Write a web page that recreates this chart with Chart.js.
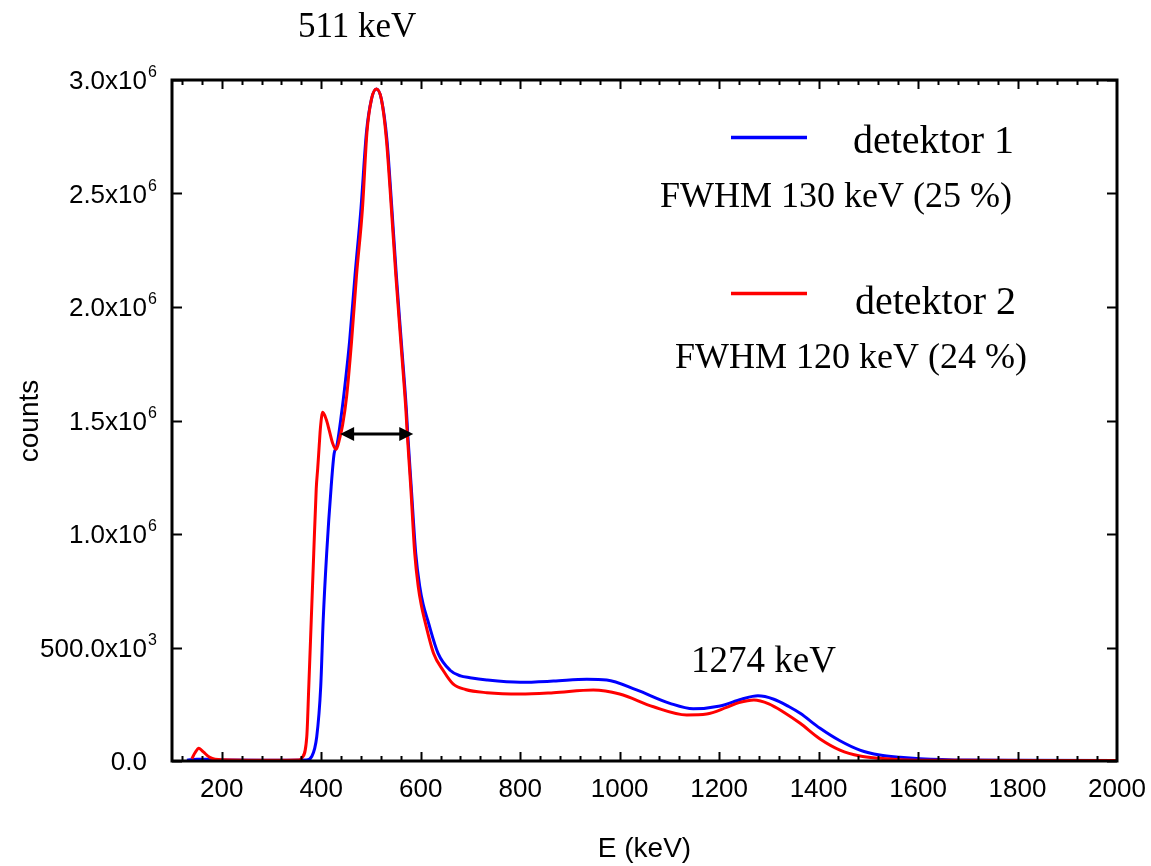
<!DOCTYPE html>
<html>
<head>
<meta charset="utf-8">
<script src="https://cdn.jsdelivr.net/npm/chart.js@4.4.0/dist/chart.umd.min.js"></script>
<style>
  html, body { margin: 0; padding: 0; background: #fff; }
  #wrap { width: 1151px; height: 866px; position: relative; }
</style>
</head>
<body>
<div id="wrap"><canvas id="spectrum"></canvas></div>
<script>
// Spectra: energy in keV, counts in units of 10^3
const energyDet1 = [130, 150, 170, 200, 300, 370, 381, 391, 399, 404, 411, 420, 426, 431, 441, 449, 457, 468, 480, 491, 501, 511, 521, 532, 542, 551, 561, 571, 574, 581, 590, 598, 605, 614, 635, 659, 680, 699, 733, 800, 867, 934, 974, 1034, 1101, 1148, 1202, 1245, 1278, 1310, 1340, 1363, 1403, 1443, 1483, 1523, 1564, 1604, 1700, 1800, 2000];
const countsDet1 = [3, 8, 8, 4, 3, 4, 20, 107, 327, 621, 916, 1208, 1355, 1384, 1533, 1680, 1847, 2140, 2436, 2770, 2915, 2960, 2915, 2740, 2436, 2140, 1847, 1555, 1440, 1208, 916, 770, 690, 621, 474, 400, 375, 367, 357, 347, 352, 360, 357, 313, 254, 230, 242, 272, 287, 272, 240, 210, 144, 89, 48, 26, 16, 10, 4, 3, 2];

const energyDet2 = [140, 146, 154, 163, 176, 200, 300, 355, 361, 371, 375, 380, 385, 390, 393, 396, 398.5, 403, 410, 416, 423, 430, 437, 443, 451, 461, 471, 483, 492, 501, 511, 521, 531, 541, 550, 560, 570, 573, 580, 588, 595, 601, 608, 626, 645, 665, 690, 733, 800, 867, 947, 1000, 1068, 1135, 1175, 1215, 1240, 1270, 1300, 1330, 1363, 1403, 1443, 1483, 1523, 1564, 1650, 2000];
const countsDet2 = [10, 35, 56, 40, 16, 5, 3, 4, 13, 107, 327, 621, 916, 1200, 1290, 1390, 1470, 1536, 1505, 1458, 1400, 1373, 1420, 1480, 1604, 1847, 2140, 2436, 2770, 2915, 2960, 2915, 2740, 2436, 2140, 1847, 1555, 1440, 1208, 916, 770, 690, 621, 474, 400, 340, 315, 301, 295, 301, 313, 295, 239, 203, 207, 236, 257, 269, 252, 215, 166, 97, 48, 22, 12, 6, 3, 2];

// Axes
const xMin = 100, xMax = 2000;
const xMajorTicks = [200, 400, 600, 800, 1000, 1200, 1400, 1600, 1800, 2000];
const xMinorStep = 40;
const yTicks = [0, 500e3, 1.0e6, 1.5e6, 2.0e6, 2.5e6, 3.0e6];
const yTickBase = ['0.0', '500.0x10', '1.0x10', '1.5x10', '2.0x10', '2.5x10', '3.0x10'];
const yTickExp = ['', '3', '6', '6', '6', '6', '6'];

// FWHM marker on the 511 keV peak
const fwhmFrom = 438, fwhmTo = 585, fwhmLevel = 1.44e6;

const blue = '#0000ff';
const red = '#ff0000';
const serif = '"Liberation Serif", "Times New Roman", serif';
const sans = '"Liberation Sans", Arial, sans-serif';

const toPoints = (es, cs) => es.map((e, i) => ({ x: e, y: cs[i] * 1000 }));

function arrowHead(ctx, tipX, tipY, dir) {
    ctx.beginPath();
    ctx.moveTo(tipX, tipY);
    ctx.lineTo(tipX - dir * 14, tipY - 7);
    ctx.lineTo(tipX - dir * 14, tipY + 7);
    ctx.closePath();
    ctx.fill();
}

const decorations = {
    id: 'decorations',
    afterDatasetsDraw(chart) {
        const { ctx, chartArea: a, scales: { x, y } } = chart;
        ctx.save();

        // frame
        ctx.strokeStyle = '#000';
        ctx.lineWidth = 3;
        ctx.strokeRect(a.left, a.top, a.right - a.left, a.bottom - a.top);

        // inward ticks on bottom and top
        ctx.lineWidth = 2;
        ctx.beginPath();
        for (let e = xMin + 20; e < xMax; e += xMinorStep) {
            const px = Math.round(x.getPixelForValue(e)) + 0.5;
            const len = xMajorTicks.includes(e) ? 9 : 5;
            ctx.moveTo(px, a.bottom); ctx.lineTo(px, a.bottom - len);
            ctx.moveTo(px, a.top); ctx.lineTo(px, a.top + len);
        }
        // inward ticks on left and right
        yTicks.forEach(v => {
            const py = Math.round(y.getPixelForValue(v)) + 0.5;
            ctx.moveTo(a.left, py); ctx.lineTo(a.left + 10, py);
            ctx.moveTo(a.right, py); ctx.lineTo(a.right - 10, py);
        });
        ctx.stroke();

        // x tick labels
        ctx.fillStyle = '#000';
        ctx.font = '26px ' + sans;
        ctx.textAlign = 'center';
        ctx.textBaseline = 'middle';
        xMajorTicks.forEach(v => ctx.fillText(String(v), x.getPixelForValue(v), a.bottom + 29));

        // y tick labels with superscript exponent
        yTicks.forEach((v, i) => {
            const py = y.getPixelForValue(v) + 2;
            ctx.font = '26px ' + sans;
            ctx.textAlign = 'right';
            ctx.textBaseline = 'middle';
            ctx.fillText(yTickBase[i], 147, py);
            if (yTickExp[i]) {
                ctx.font = '16px ' + sans;
                ctx.textAlign = 'left';
                ctx.fillText(yTickExp[i], 148, py - 9);
            }
        });

        // axis titles
        ctx.font = '28px ' + sans;
        ctx.textAlign = 'center';
        ctx.textBaseline = 'middle';
        ctx.fillText('E (keV)', (a.left + a.right) / 2, 849);
        ctx.save();
        ctx.translate(30, 421);
        ctx.rotate(-Math.PI / 2);
        ctx.fillText('counts', 0, 0);
        ctx.restore();

        // FWHM arrow
        const ay = y.getPixelForValue(fwhmLevel);
        const ax1 = x.getPixelForValue(fwhmFrom);
        const ax2 = x.getPixelForValue(fwhmTo);
        ctx.strokeStyle = '#000';
        ctx.lineWidth = 3;
        ctx.beginPath();
        ctx.moveTo(ax1 + 10, ay); ctx.lineTo(ax2 - 10, ay);
        ctx.stroke();
        arrowHead(ctx, ax1, ay, -1);
        arrowHead(ctx, ax2, ay, 1);

        // legend and annotations
        ctx.lineWidth = 3.5;
        ctx.strokeStyle = blue;
        ctx.beginPath(); ctx.moveTo(731, 137.5); ctx.lineTo(807, 137.5); ctx.stroke();
        ctx.strokeStyle = red;
        ctx.beginPath(); ctx.moveTo(731, 293.5); ctx.lineTo(807, 293.5); ctx.stroke();

        ctx.textAlign = 'left';
        ctx.textBaseline = 'alphabetic';
        ctx.font = '40px ' + serif;
        ctx.fillText('detektor 1', 853, 153);
        ctx.fillText('detektor 2', 855, 314);
        ctx.font = '36px ' + serif;
        ctx.fillText('FWHM 130 keV (25 %)', 660, 207);
        ctx.fillText('FWHM 120 keV (24 %)', 675, 368);
        ctx.font = '35px ' + serif;
        ctx.fillText('511 keV', 298, 37);
        ctx.font = '37px ' + serif;
        ctx.fillText('1274 keV', 691, 672);

        ctx.restore();
    }
};

new Chart(document.getElementById('spectrum'), {
    type: 'line',
    data: {
        datasets: [
            {
                label: 'detektor 1',
                data: toPoints(energyDet1, countsDet1),
                borderColor: blue,
                borderWidth: 3,
                pointRadius: 0,
                cubicInterpolationMode: 'monotone',
                order: 2
            },
            {
                label: 'detektor 2',
                data: toPoints(energyDet2, countsDet2),
                borderColor: red,
                borderWidth: 3,
                pointRadius: 0,
                cubicInterpolationMode: 'monotone',
                order: 1
            }
        ]
    },
    options: {
        responsive: true,
        maintainAspectRatio: false,
        animation: false,
        layout: { padding: { left: 172, right: 34, top: 80, bottom: 105 } },
        plugins: { legend: { display: false }, tooltip: { enabled: false } },
        scales: {
            x: { type: 'linear', min: xMin, max: xMax, display: false },
            y: { type: 'linear', min: 0, max: 3.0e6, display: false }
        }
    },
    plugins: [decorations]
});
</script>
</body>
</html>
